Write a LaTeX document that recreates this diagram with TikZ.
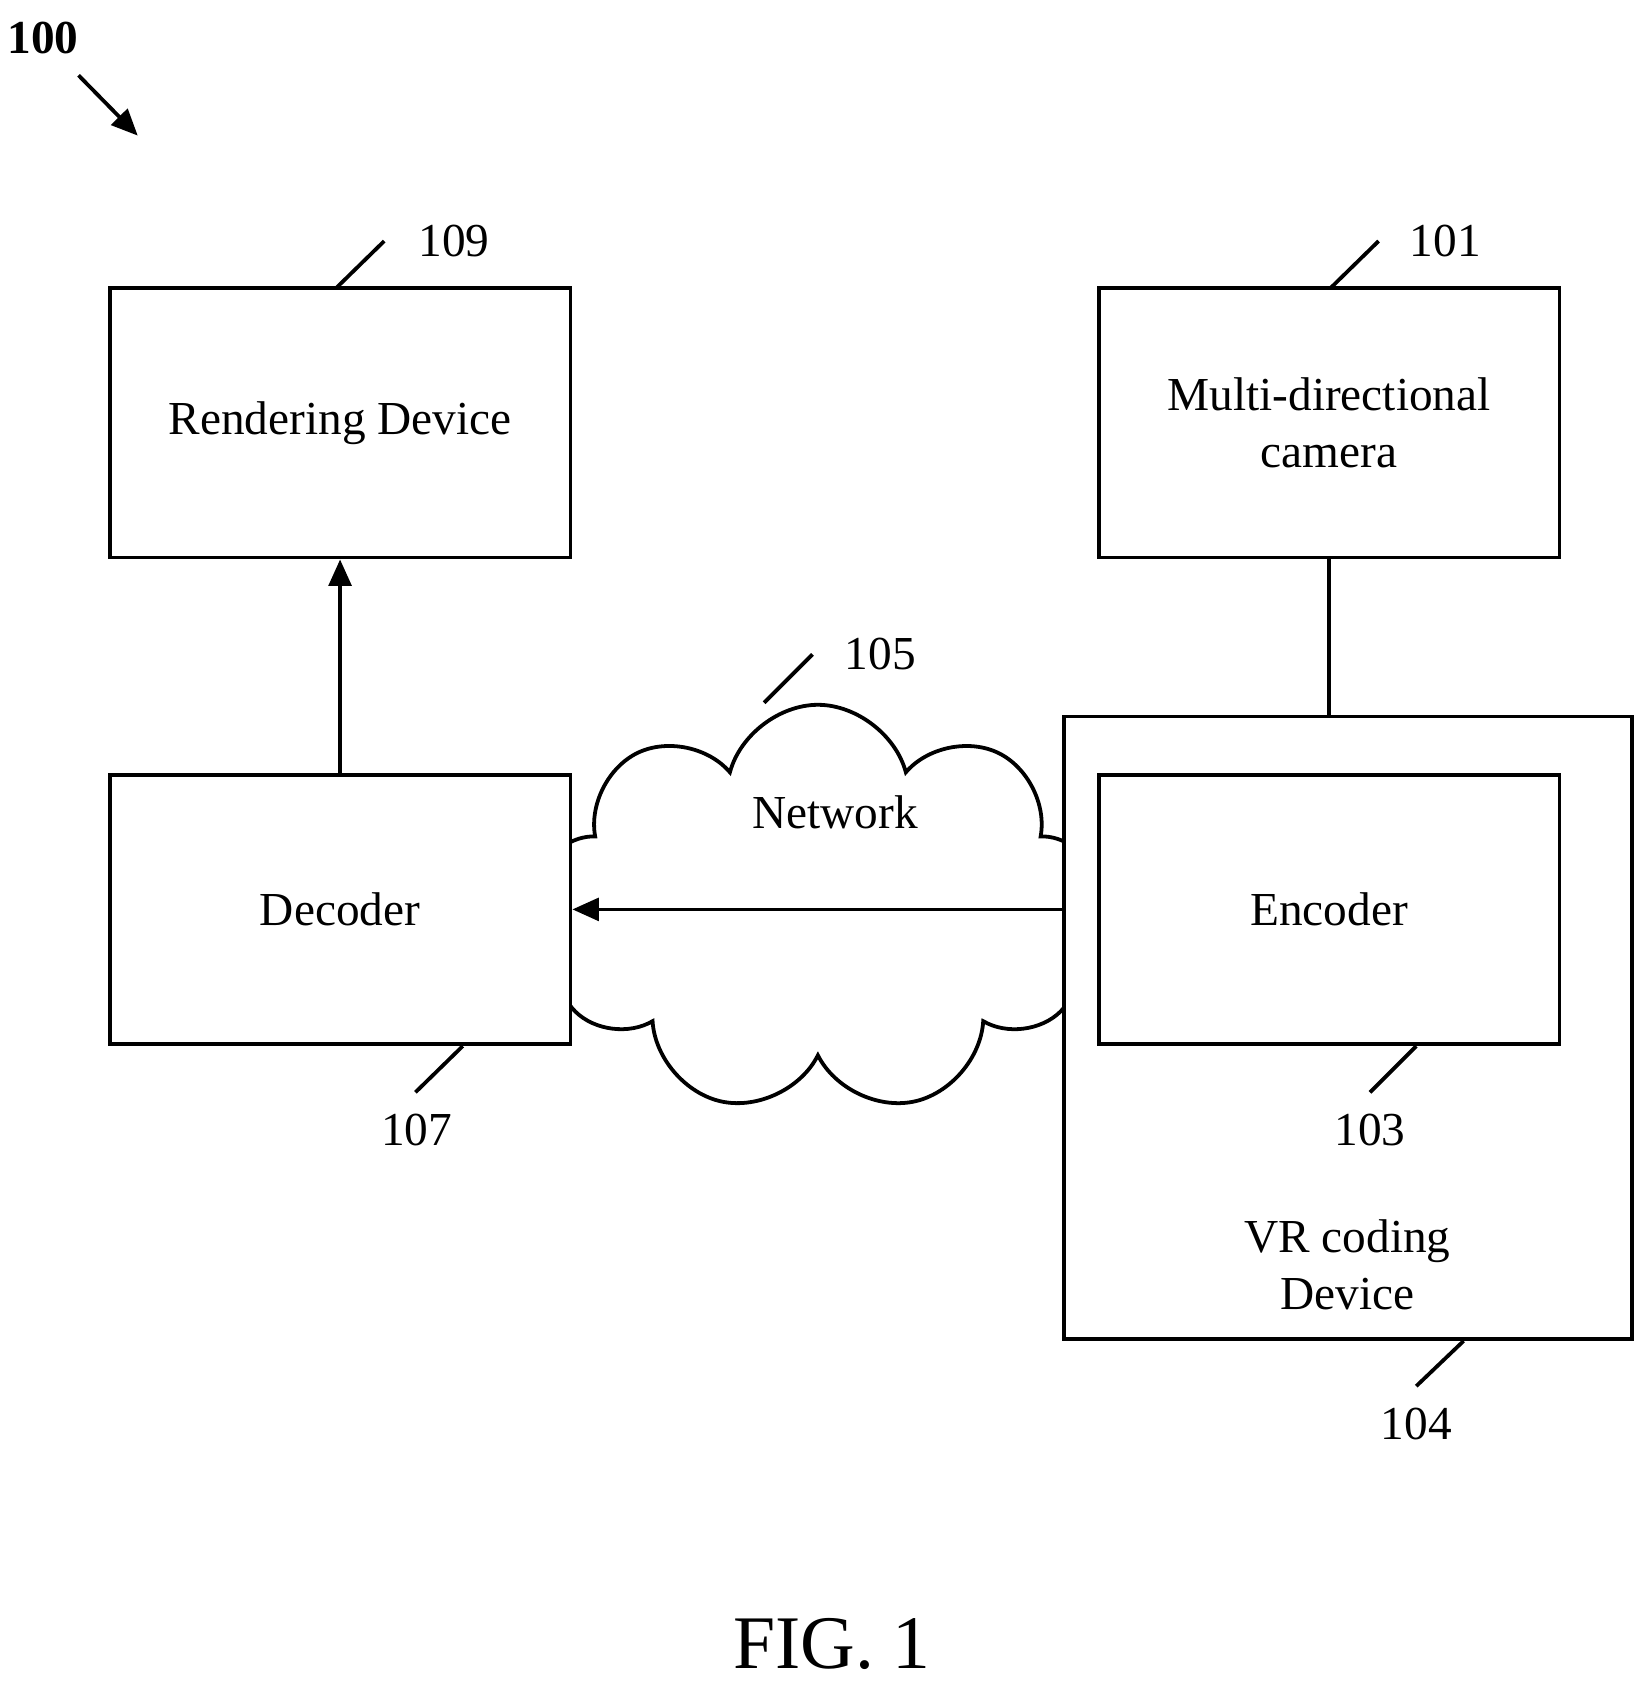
\documentclass[tikz,border=0pt]{standalone}
\usepackage{fontspec}
\setmainfont{Liberation Serif}
\usetikzlibrary{arrows.meta}
\usetikzlibrary{shapes.symbols}

\begin{document}
\begin{tikzpicture}[x=0.01cm, y=-0.01cm]
\tikzset{
   >={Triangle[length=7pt, width=6pt]},
   every node/.style = {font = \fontsize{12.5}{15}\selectfont},
   box/.style = {rectangle, draw, line width = 1pt, fill = white, align = center, inner sep = 0pt},
   ref/.style = {inner sep = 0pt},
   lead/.style = {line width = 1pt}
 }
  \useasboundingbox (0,0) rectangle (1530,1562);

  \node[cloud, draw, line width = 1pt, cloud puffs = 9, aspect = 1.35,
        minimum width = 5.2cm, minimum height = 3.8cm] (net) at (760,845) {};
  \node[] (net_txt) at (776,755) {Network};

  \node[box, minimum width = 4.28cm, minimum height = 2.5cm] (render) at (316,393) {Rendering Device};
  \node[box, minimum width = 4.28cm, minimum height = 2.5cm] (camera) at (1235,393) {Multi-directional\\camera};
  \node[box, minimum width = 5.27cm, minimum height = 5.78cm] (vr) at (1252.5,955) {};
  \node[box, minimum width = 4.28cm, minimum height = 2.5cm] (encoder) at (1235,845) {Encoder};
  \node[box, minimum width = 4.28cm, minimum height = 2.5cm] (decoder) at (316,845) {Decoder};
  \node[align = center] (vr_txt) at (1252,1175) {VR coding\\Device};

  \draw[line width = 1pt, ->] (decoder.north) -- (render.south);
  \draw[line width = 1pt, ->] (vr.west |- decoder.east) -- (decoder.east);
  \draw[line width = 1pt] (camera.south) -- (camera.south |- vr.north);

  % reference numerals
  \node[ref] (n109) at (422,224) {109};
  \node[ref] (n101) at (1343,224) {101};
  \node[ref] (n105) at (818,608) {105};
  \node[ref] (n107) at (387,1050) {107};
  \node[ref] (n103) at (1273,1050) {103};
  \node[ref] (n104) at (1316,1323) {104};
  \node[ref, font = \fontsize{12.5}{15}\selectfont\bfseries] (n100) at (40,35) {100};
  \node[ref, font = \fontsize{20}{24}\selectfont] (fig) at (773,1528) {FIG. 1};

  \coordinate (c109) at (357,224);
  \coordinate (c101) at (1281,224);
  \coordinate (c105) at (755,608);
  \coordinate (c107) at (386,1015);
  \coordinate (c103) at (1273,1015);
  \coordinate (c104) at (1316,1288);
  \coordinate (c100a) at (73,70);
  \coordinate (c100b) at (128,126);
  \draw[lead] (312,268) -- (c109);
  \draw[lead] (1236,268) -- (c101);
  \draw[lead] (710,653) -- (c105);
  \draw[lead] (430,972) -- (c107);
  \draw[lead] (1316,972) -- (c103);
  \draw[lead] (1360,1246) -- (c104);
  \draw[lead, ->] (c100a) -- (c100b);
\end{tikzpicture}
\end{document}
